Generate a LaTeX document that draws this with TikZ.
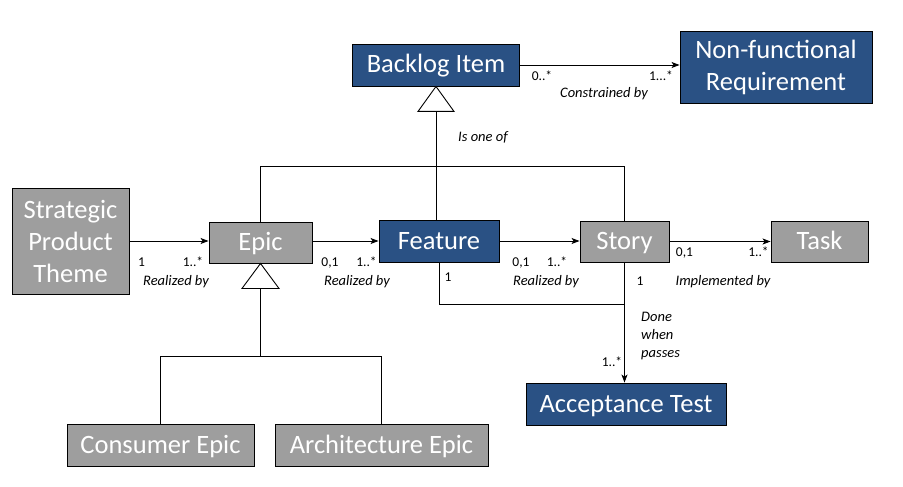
\documentclass[tikz,border=0pt]{standalone}
\usepackage{fontspec}
\setmainfont{Carlito}
\usetikzlibrary{arrows.meta,calc}
\definecolor{blueC}{HTML}{2A5184}
\definecolor{grayC}{HTML}{9E9E9E}
\begin{document}
\begin{tikzpicture}[x=1pt,y=-1pt,
  box/.style={draw=black,line width=0.9pt,text=white,inner sep=0pt,align=center,
    font=\fontsize{26.5}{32}\selectfont},
  one/.style={text height=16pt,text depth=0pt},
  bluebox/.style={box,fill=blueC},
  graybox/.style={box,fill=grayC},
  conn/.style={draw=black,line width=0.9pt},
  arr/.style={conn,-{Stealth[length=8pt,width=6pt,inset=2pt]}},
  gen/.style={draw=black,line width=0.9pt,fill=white},
  lbl/.style={inner sep=0pt,font=\fontsize{13.5}{15}\selectfont},
  ilbl/.style={inner sep=0pt,font=\fontsize{14.5}{18}\selectfont\itshape,align=left}]
\useasboundingbox (0,0) rectangle (903,487);
\fill[white] (0,0) rectangle (903,487);

% nodes
\node[bluebox,one,minimum width=167pt,minimum height=42pt] (bi) at (436,65) {Backlog Item};
\node[bluebox,minimum width=192pt,minimum height=72pt] (nfr) at (776,67) {Non-functional\\Requirement};
\node[graybox,minimum width=117pt,minimum height=106pt] (spt) at (70.5,241) {Strategic\\Product\\Theme};
\node[graybox,one,minimum width=103pt,minimum height=41pt] (epic) at (260.5,242.5) {Epic};
\node[bluebox,one,minimum width=120pt,minimum height=42pt] (feat) at (439,241) {Feature};
\node[graybox,one,minimum width=89pt,minimum height=41pt] (story) at (624.5,241.5) {Story};
\node[graybox,one,minimum width=97pt,minimum height=41pt] (task) at (819.5,241.5) {Task};
\node[bluebox,one,minimum width=200pt,minimum height=42pt] (at) at (626,404) {Acceptance Test};
\node[graybox,one,minimum width=187pt,minimum height=42pt] (ce) at (160.5,445) {Consumer Epic};
\node[graybox,one,minimum width=213pt,minimum height=42pt] (ae) at (381.5,445) {Architecture Epic};

% generalisation: Backlog Item
\draw[gen] (bi.south) -- ++(-18,25) coordinate (t1l) -- ++(36,0) -- cycle;
\coordinate (t1) at ($(t1l)+(18,0)$);
\coordinate (j1) at ($(t1)+(0,55)$);
\draw[conn] (t1) -- (feat.north -| t1);
\draw[conn] (epic.north) |- (j1) -| (story.north);

% generalisation: Epic
\draw[gen] (epic.south) -- ++(-18.5,25) coordinate (t2l) -- ++(37,0) -- cycle;
\coordinate (t2) at ($(t2l)+(18.5,0)$);
\coordinate (j2) at ($(t2)+(0,68)$);
\draw[conn] (t2) -- (j2);
\draw[conn] (ce.north) |- (j2) -| (ae.north);

% associations
\draw[arr] (bi.east) -- (nfr.west |- bi.east);
\draw[arr] (spt.east) -- (epic.west |- spt.east);
\draw[arr] (epic.east |- feat.west) -- (feat.west);
\draw[arr] (feat.east) -- (story.west |- feat.east);
\draw[arr] (story.east) -- (task.west |- story.east);
\coordinate (j3) at ($(story.south)+(0,42)$);
\draw[conn] (feat.south) |- (j3);
\draw[arr] (story.south) -- (at.north -| story.south);

% labels
\node[lbl] (l1) at (542,76) {0..*};
\node[lbl] (l2) at (661,76) {1...*};
\node[ilbl] (l3) at (604,94) {Constrained by};
\node[ilbl] (l4) at (483,137) {Is one of};
\node[lbl] (l5) at (141.5,262.5) {1};
\node[lbl] (l6) at (193,262) {1..*};
\node[ilbl] (l7) at (176,282) {Realized by};
\node[lbl] (l8) at (330,262.5) {0,1};
\node[lbl] (l9) at (366.5,262) {1..*};
\node[ilbl] (l10) at (357,282) {Realized by};
\node[lbl] (l11) at (521,262.5) {0,1};
\node[lbl] (l12) at (557,262) {1..*};
\node[ilbl] (l13) at (546,282) {Realized by};
\node[lbl] (l14) at (448,277) {1};
\node[lbl] (l15) at (640,281) {1};
\node[lbl] (l16) at (684.5,252.5) {0,1};
\node[lbl] (l17) at (758.5,252) {1..*};
\node[ilbl] (l18) at (723,282) {Implemented by};
\node[ilbl,anchor=west] (l19) at (641,336) {Done\\when\\passes};
\node[lbl] (l20) at (612,362) {1..*};
\end{tikzpicture}
\end{document}
